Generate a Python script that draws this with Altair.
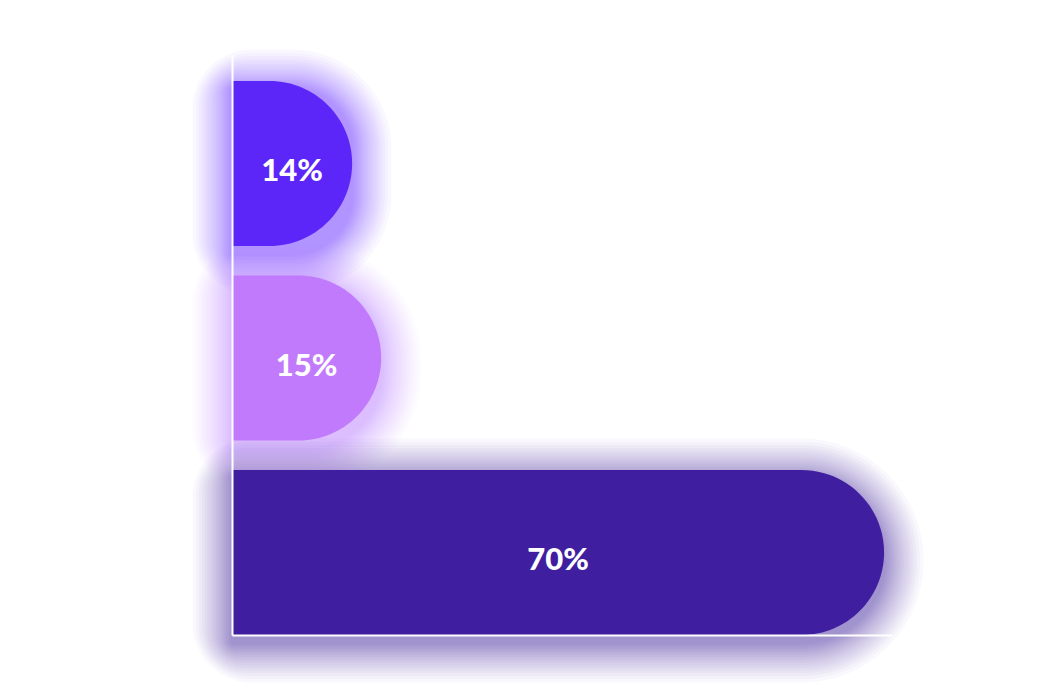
import altair as alt
import pandas as pd

categories = ["A", "B", "C"]
labels = ["14%", "15%", "70%"]
bar_values = [18.2, 22.6, 98.8]
colors = ["#5C26F9", "#C27AFD", "#3F1F9F"]

df = pd.DataFrame({"cat": categories, "label": labels, "value": bar_values, "color": colors})

W, H = 660, 580
XDOM = [0, 100]
PX = W / (XDOM[1] - XDOM[0])  # pixels per unit
BAR_H = 165
R = BAR_H / 2

x_scale = alt.Scale(domain=XDOM, nice=False)
y_scale = alt.Scale(paddingInner=0.1517, paddingOuter=0.0668, align=1)
col_enc = alt.Color("color:N", scale=None, legend=None)


def ax():
    return alt.Axis(title=None, labels=False, ticks=False, grid=False,
                    domainColor="white", domainWidth=2, zindex=1)


def yenc():
    return alt.Y("cat:N", sort=categories, scale=y_scale, axis=ax())


def xenc(field):
    return alt.X(field, scale=x_scale, axis=ax())


base = alt.Chart(df)

# soft glow: stacked, slightly larger translucent copies of each bar
GLOW_STEPS = [1.5, 3, 4.5, 6, 7.5, 9, 10.5, 12, 14, 16, 18, 20, 22.5, 25, 27.5,
              30, 33, 36, 39.5]
glows = []
for hw in GLOW_STEPS:
    glows.append(
        base.mark_bar(
            height=BAR_H + 2 * hw,
            yOffset=8,
            fillOpacity=0.032,
            cornerRadiusTopRight=R + hw,
            cornerRadiusBottomRight=R + hw,
            cornerRadiusTopLeft=hw * 1.5,
            cornerRadiusBottomLeft=hw * 1.5,
        )
        .transform_calculate(
            gx="-%f" % (hw / PX),
            gx2="datum.value + %f" % (hw / PX),
        )
        .encode(x=xenc("gx:Q"), x2="gx2:Q", y=yenc(), color=col_enc)
    )

bars = base.mark_bar(
    cornerRadiusTopRight=R, cornerRadiusBottomRight=R, clip=True
).transform_calculate(
    start="min(0, datum.value - %f)" % (2 * R / PX)
).encode(x=xenc("start:Q"), x2="value:Q", y=yenc(), color=col_enc)

text = base.mark_text(color="white", fontSize=31, fontWeight=900, font="Lato",
                      baseline="middle", dy=9).transform_calculate(
    mid="datum.value / 2"
).encode(x=xenc("mid:Q"), y=yenc(), text="label:N")

chart = alt.layer(*glows, bars, text).properties(
    width=W, height=H,
    background="white",
    autosize=alt.AutoSizeParams(type="none"),
    padding={"left": 224, "top": 47, "right": 140, "bottom": 50},
).configure_view(stroke=None)

chart.save("out.html", embed_options={"renderer": "svg", "actions": False})
